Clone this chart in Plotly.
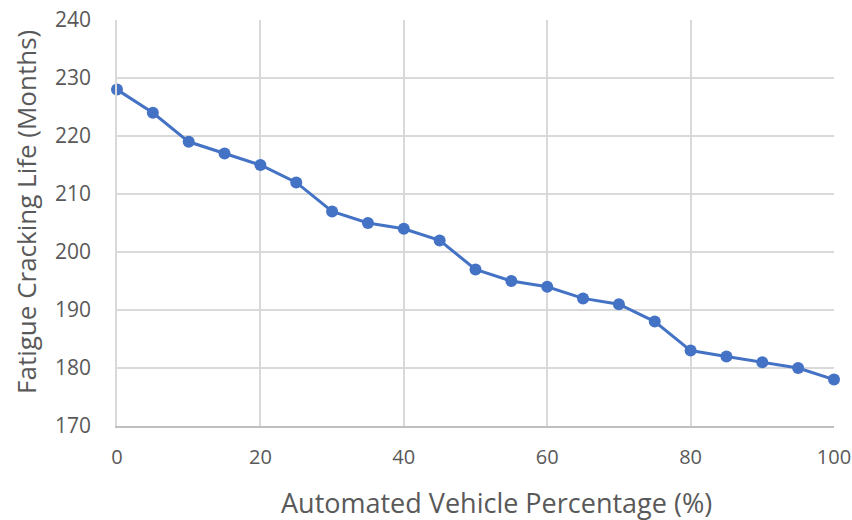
import plotly.graph_objects as go

av_pct = [0, 5, 10, 15, 20, 25, 30, 35, 40, 45, 50, 55, 60, 65, 70, 75, 80, 85, 90, 95, 100]
fatigue_life = [228, 224, 219, 217, 215, 212, 207, 205, 204, 202, 197, 195, 194, 192, 191, 188, 183, 182, 181, 180, 178]

font_family = "Open Sans, sans-serif"
grey_text = "#595959"

fig = go.Figure()
fig.add_trace(go.Scatter(
    x=av_pct, y=fatigue_life, mode="lines+markers",
    line=dict(color="#4472C4", width=3),
    marker=dict(color="#4472C4", size=12),
    showlegend=False, cliponaxis=False))

fig.update_xaxes(
    range=[0, 100], tickvals=[0, 20, 40, 60, 80, 100],
    showgrid=True, gridcolor="#d9d9d9", gridwidth=1.5,
    showline=True, linecolor="#bfbfbf", linewidth=1.5, mirror=False,
    zeroline=False, ticks="", ticklabelstandoff=12, automargin=False,
    ticklabeloverflow="allow",
    tickfont=dict(size=20, color=grey_text, family=font_family))

fig.update_yaxes(
    range=[170, 240], tickvals=[170, 180, 190, 200, 210, 220, 230, 240],
    showgrid=True, gridcolor="#d9d9d9", gridwidth=1.5,
    showline=True, linecolor="#d9d9d9", linewidth=1.5,
    zeroline=False, ticks="", ticklabelstandoff=20, automargin=False,
    ticklabeloverflow="allow",
    tickfont=dict(size=21, color=grey_text, family=font_family))

# axis titles as annotations so they can sit where the original has them
fig.add_annotation(
    text="Automated Vehicle Percentage (%)", xref="paper", yref="paper",
    x=0.529, y=-0.188, xanchor="center", yanchor="middle", showarrow=False,
    font=dict(size=27, color=grey_text, family=font_family))
fig.add_annotation(
    text="Fatigue Cracking Life (Months)", xref="paper", yref="paper",
    x=-0.127, y=0.527, xanchor="center", yanchor="middle", showarrow=False,
    textangle=-90, font=dict(size=26, color=grey_text, family=font_family))

fig.update_layout(
    width=852, height=520,
    margin=dict(l=117, r=18, t=20, b=94),
    plot_bgcolor="white", paper_bgcolor="white")

# drop the default 8px body margin so the figure fills the window
fig.write_html("out.html", config={"displayModeBar": False},
               post_script="document.body.style.margin='0';")
